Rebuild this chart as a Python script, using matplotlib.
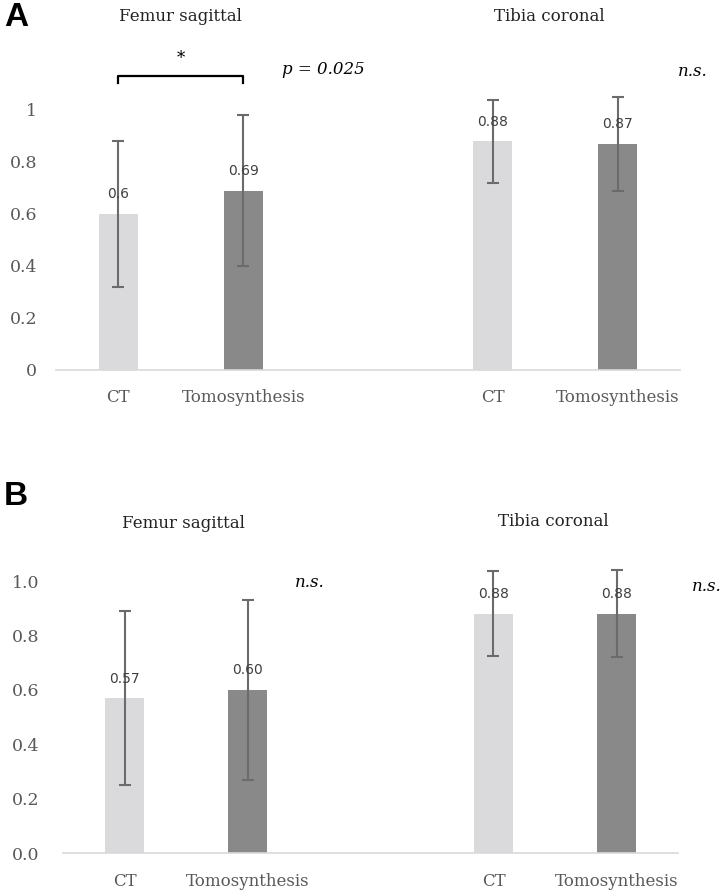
import matplotlib
matplotlib.use("Agg")
import matplotlib.pyplot as plt
import numpy as np

# ---- data ----
groups = ["Femur sagittal", "Tibia coronal"]
modalities = ["CT", "Tomosynthesis"]
a_means = [0.60, 0.69, 0.88, 0.87]
a_sd = [0.28, 0.29, 0.16, 0.18]
a_labels = ["0.6", "0.69", "0.88", "0.87"]
b_means = [0.57, 0.60, 0.88, 0.88]
b_sd = [0.32, 0.33, 0.155, 0.16]
b_labels = ["0.57", "0.60", "0.88", "0.88"]
a_yticklabels = ["0", "0.2", "0.4", "0.6", "0.8", "1"]
b_yticklabels = ["0.0", "0.2", "0.4", "0.6", "0.8", "1.0"]

W, H = 721, 892
fig = plt.figure(figsize=(W / 100, H / 100), dpi=100)

SERIF = "DejaVu Serif"
GRAY = "#595959"
light, dark = "#DADADC", "#898989"
positions = [0, 1, 3, 4]


def make_ax(left, right, zero_y, one_y):
    scale = zero_y - one_y
    top = zero_y - 1.2 * scale
    ax = fig.add_axes([left / W, 1 - zero_y / H, (right - left) / W, (zero_y - top) / H])
    return ax


def draw(ax, means, sds, labels, yticklabels, ypad):
    colors = [light, dark, light, dark]
    ax.bar(positions, means, width=0.31, color=colors, zorder=2)
    ax.errorbar(positions, means, yerr=sds, fmt="none", ecolor="#6b6b6b",
                elinewidth=1.5, capsize=4, capthick=1.5, zorder=3)
    for x, m, s, lab in zip(positions, means, sds, labels):
        ax.annotate(lab, (x, m), xytext=(0, 9), textcoords="offset points",
                    ha="center", va="bottom", fontsize=10, color="#404040",
                    family="DejaVu Sans", zorder=4)
    ax.set_xlim(-0.5, 4.5)
    ax.set_ylim(0, 1.2)
    ax.set_yticks([0, 0.2, 0.4, 0.6, 0.8, 1.0])
    ax.set_yticklabels(yticklabels, family=SERIF, fontsize=12.5, color=GRAY)
    ax.set_xticks(positions)
    ax.set_xticklabels(modalities * 2, family=SERIF, fontsize=12, color=GRAY)
    ax.tick_params(length=0)
    ax.tick_params(axis="y", pad=ypad)
    ax.tick_params(axis="x", pad=14)
    for s in ["top", "right", "left"]:
        ax.spines[s].set_visible(False)
    ax.spines["bottom"].set_color("#D9D9D9")
    ax.spines["bottom"].set_linewidth(1.2)
    ax.patch.set_alpha(0)


# ---- panel A ----
axA = make_ax(56, 680, 370, 110)
draw(axA, a_means, a_sd, a_labels, a_yticklabels, 13.5)
axA.text(0.5, 1.36, groups[0], ha="center", va="center", family=SERIF, fontsize=12, color="#222222", clip_on=False)
axA.text(3.45, 1.36, groups[1], ha="center", va="center", family=SERIF, fontsize=12, color="#222222", clip_on=False)
axA.plot([0, 0, 1, 1], [1.105, 1.13, 1.13, 1.105], color="black", lw=1.6, clip_on=False)
axA.text(0.5, 1.2, "*", ha="center", va="center", fontsize=12, family=SERIF, clip_on=False)
axA.text(1.31, 1.155, "p = 0.025", ha="left", va="center", style="italic", family=SERIF, fontsize=12, clip_on=False)
axA.text(4.48, 1.147, "n.s.", ha="left", va="center", style="italic", family=SERIF, fontsize=12, clip_on=False)

# ---- panel B ----
axB = make_ax(63, 678, 853.3, 581)
draw(axB, b_means, b_sd, b_labels, b_yticklabels, 17)
axB.text(0.48, 1.21, groups[0], ha="center", va="center", family=SERIF, fontsize=12, color="#222222", clip_on=False)
axB.text(3.49, 1.22, groups[1], ha="center", va="center", family=SERIF, fontsize=12, color="#222222", clip_on=False)
axB.text(1.386, 0.993, "n.s.", ha="left", va="center", style="italic", family=SERIF, fontsize=12, clip_on=False)
axB.text(4.61, 0.978, "n.s.", ha="left", va="center", style="italic", family=SERIF, fontsize=12, clip_on=False)

# panel letters
fig.text(4 / W, 1 - 18 / H, "A", fontsize=24, fontweight="bold", family="Liberation Sans", va="center", ha="left")
fig.text(4 / W, 1 - 496 / H, "B", fontsize=24, fontweight="bold", family="Liberation Sans", va="center", ha="left")

fig.savefig("out.png", dpi=100)
